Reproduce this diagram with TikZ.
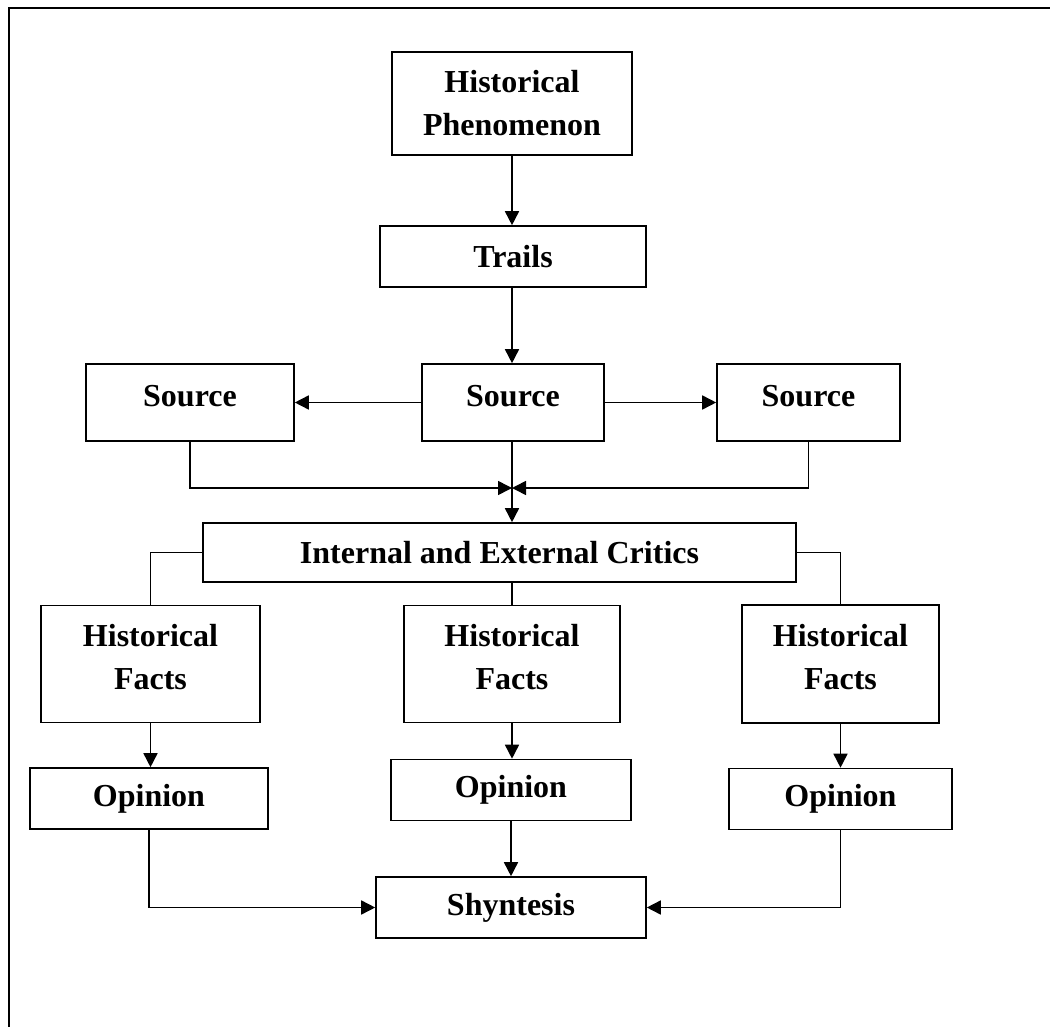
\documentclass[tikz,border=0pt]{standalone}
\usepackage{fontspec}
\setmainfont{Liberation Serif}
\usetikzlibrary{arrows.meta}

\begin{document}
\begin{tikzpicture}[x=1pt,y=-1pt,
  box/.style={draw,line width=1.6pt,inner sep=0pt,align=center,
    font=\bfseries\fontsize{32}{43}\selectfont},
  raised/.style={text height=22pt,text depth=15pt},
  raisedtwo/.style={text height=50pt,text depth=0pt},
  arr/.style={line width=1.6pt,-{Triangle[length=14pt,width=14pt]}},
  ln/.style={line width=1.6pt}]
\useasboundingbox (0,0) rectangle (1050,1027);

% frame
\draw[line width=1.8pt] (9,1027) -- (9,7.7) -- (1050,7.7);

% boxes
\node[box,minimum width=240,minimum height=103] (phen) at (512,103.5) {Historical\\Phenomenon};
\node[box,minimum width=266,minimum height=61] (trails) at (513,256.5) {Trails};
\node[box,raised,minimum width=208,minimum height=77] (srcL) at (190,402.5) {Source};
\node[box,raised,minimum width=182,minimum height=77] (srcM) at (513,402.5) {Source};
\node[box,raised,minimum width=183,minimum height=77] (srcR) at (808.5,402.5) {Source};
\node[box,minimum width=593,minimum height=59] (critics) at (499.5,552.5) {Internal and External Critics};
\node[box,raisedtwo,minimum width=219,minimum height=117] (hfL) at (150.5,664) {Historical\\Facts};
\node[box,raisedtwo,minimum width=216,minimum height=117] (hfM) at (512,664) {Historical\\Facts};
\node[box,raisedtwo,minimum width=197,minimum height=118] (hfR) at (840.5,664) {Historical\\Facts};
\node[box,minimum width=238,minimum height=61] (opL) at (149,798.5) {Opinion};
\node[box,minimum width=240,minimum height=61] (opM) at (511,790) {Opinion};
\node[box,minimum width=223,minimum height=61] (opR) at (840.5,799) {Opinion};
\node[box,minimum width=270,minimum height=61] (syn) at (511,907.5) {Shyntesis};
\coordinate (jn) at (512,488);

% arrows
\draw[arr] (phen.south) -- (phen.south |- trails.north);
\draw[arr] (trails.south -| phen.south) -- (srcM.north -| phen.south);
\draw[arr] (srcM.west) -- (srcL.east);
\draw[arr] (srcM.east) -- (srcR.west);
\draw[arr] (srcL.south) |- (jn);
\draw[arr] (srcR.south) |- (jn);
\draw[arr] (srcM.south -| jn) -- (critics.north -| jn);

% critics to facts
\draw[ln] (critics.west) -| (hfL.north);
\draw[ln] (critics.east) -| (hfR.north);
\draw[ln] (critics.south -| hfM.north) -- (hfM.north);
\draw[arr] (hfL.south) -- (hfL.south |- opL.north);
\draw[arr] (hfM.south) -- (hfM.south |- opM.north);
\draw[arr] (hfR.south) -- (hfR.south |- opR.north);

% opinions to synthesis
\draw[arr] (opL.south) |- (syn.west);
\draw[arr] (opR.south) |- (syn.east);
\draw[arr] (opM.south) -- (opM.south |- syn.north);
\end{tikzpicture}
\end{document}
